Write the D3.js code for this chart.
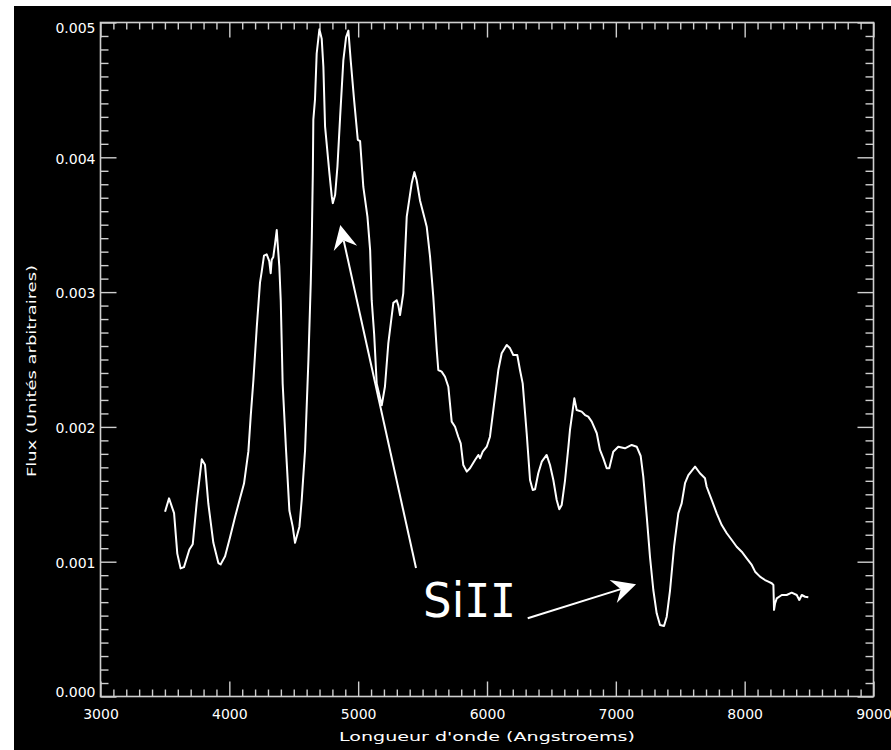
<!DOCTYPE html>
<html>
<head>
<meta charset="utf-8">
<script src="https://cdn.jsdelivr.net/npm/d3@7"></script>
<style>
  html, body { margin: 0; padding: 0; background: #ffffff; }
  svg { display: block; }
</style>
</head>
<body>
<script>
// ---- Data ----
const wavelength = [
  3501,3532,3571,3596,3622,3648,3690,3716,3747,3786,3811,3837,3876,3915,3933,3967,
  4005,4044,4083,4114,4148,4166,4187,4213,4238,4251,4269,4290,4310,4321,4329,4341,
  4355,4368,4375,4388,4399,4414,4440,4466,4492,4510,4544,4562,4588,4614,4632,4640,
  4648,4652,4665,4678,4699,4717,4730,4743,4777,4795,4803,4821,4839,4860,4885,4906,
  4924,4942,4968,4997,5015,5040,5072,5093,5105,5124,5144,5183,5208,5234,5273,5299,
  5312,5325,5350,5377,5416,5436,5454,5480,5519,5532,5558,5583,5610,5622,5648,5674,
  5700,5726,5752,5777,5796,5816,5843,5868,5907,5933,5946,5967,5998,6023,6049,6088,
  6114,6153,6179,6204,6235,6256,6277,6308,6334,6355,6373,6398,6425,6463,6489,6515,
  6541,6561,6580,6606,6632,6644,6678,6696,6735,6761,6786,6813,6852,6877,6903,6929,
  6949,6980,7019,7071,7123,7162,7193,7213,7240,7265,7291,7317,7343,7374,7395,7421,
  7452,7485,7511,7537,7563,7615,7653,7692,7705,7744,7783,7822,7861,7900,7938,7977,
  8016,8055,8081,8119,8158,8184,8210,8223,8228,8236,8249,8288,8326,8365,8404,8424,
  8443,8469,8494
];
const flux = [
  0.001371,0.001470,0.001360,0.001060,0.000950,0.000960,0.001090,0.001130,0.001440,0.001760,0.001720,0.001430,0.001140,0.000990,0.000980,0.001040,
  0.001180,0.001330,0.001470,0.001580,0.001820,0.002080,0.002350,0.002740,0.003070,0.003150,0.003270,0.003280,0.003230,0.003140,0.003240,0.003260,
  0.003360,0.003460,0.003360,0.003190,0.002940,0.002320,0.001830,0.001380,0.001260,0.001140,0.001260,0.001460,0.001830,0.002500,0.003070,0.003400,
  0.003880,0.004280,0.004430,0.004770,0.004950,0.004880,0.004670,0.004230,0.003880,0.003710,0.003660,0.003720,0.003930,0.004300,0.004720,0.004890,
  0.004940,0.004720,0.004430,0.004130,0.004120,0.003780,0.003560,0.003310,0.002940,0.002690,0.002320,0.002160,0.002300,0.002620,0.002920,0.002940,
  0.002900,0.002830,0.002990,0.003560,0.003810,0.003890,0.003830,0.003680,0.003535,0.003485,0.003263,0.002966,0.002570,0.002422,0.002410,0.002372,
  0.002298,0.002039,0.002001,0.001927,0.001878,0.001717,0.001668,0.001693,0.001754,0.001792,0.001767,0.001816,0.001853,0.001927,0.002125,0.002422,
  0.002546,0.002608,0.002583,0.002533,0.002533,0.002422,0.002323,0.001953,0.001606,0.001532,0.001537,0.001656,0.001742,0.001792,0.001717,0.001606,
  0.001458,0.001389,0.001421,0.001606,0.001853,0.001977,0.002212,0.002125,0.002113,0.002088,0.002076,0.002039,0.001953,0.001829,0.001767,0.001693,
  0.001693,0.001816,0.001853,0.001841,0.001866,0.001853,0.001784,0.001631,0.001334,0.001037,0.000790,0.000617,0.000530,0.000523,0.000592,0.000790,
  0.001111,0.001359,0.001433,0.001582,0.001643,0.001705,0.001656,0.001619,0.001556,0.001458,0.001359,0.001272,0.001211,0.001161,0.001111,0.001074,
  0.001025,0.000976,0.000926,0.000889,0.000864,0.000852,0.000840,0.000827,0.000642,0.000691,0.000728,0.000753,0.000753,0.000770,0.000753,0.000716,
  0.000753,0.000740,0.000736
];
const xMajorTicks = [3000,4000,5000,6000,7000,8000,9000];
const yMajorTicks = [0.000,0.001,0.002,0.003,0.004,0.005];
const xTitle = "Longueur d'onde (Angstroems)";
const yTitle = "Flux (Unités arbitraires)";
// annotation (data coordinates): label parts and arrows [tailX, tailY, tipX, tipY]
const annotLabelParts = ["Si", "II"];
const annotLabelPos = [5504, 0.000590];
const annotArrows = [
  [5449, 0.000953, 4861, 0.003498],
  [6316, 0.000580, 7157, 0.000832]
];

// ---- Drawing ----
const W = 891, H = 750;
const svg = d3.select("body").append("svg").attr("width", W).attr("height", H);
svg.append("rect").attr("width", W).attr("height", H).attr("fill", "#ffffff");
svg.append("rect").attr("x", 14).attr("y", 6).attr("width", W - 14).attr("height", H - 6).attr("fill", "#000000");

const L = 100.5, R = 873.5, T = 22.5, B = 696.5;
const x = d3.scaleLinear().domain([3000, 9000]).range([L, R]);
const y = d3.scaleLinear().domain([0, 0.005]).range([B, T]);

const axisColor = "#cfcfcf";
const xMinor = d3.range(3000, 9001, 100).filter(v => v % 1000 !== 0);
const yMinor = d3.range(0, 51, 1).filter(v => v % 10 !== 0).map(v => v / 10000);

function styleAxis(g) {
  g.select(".domain").remove();
  g.selectAll(".tick line").attr("stroke", axisColor).attr("stroke-width", 1.4);
}

// bottom
svg.append("g").attr("transform", `translate(0,${B})`)
  .call(d3.axisBottom(x).tickValues(xMinor).tickSize(-7).tickFormat(""))
  .call(styleAxis);
const gxb = svg.append("g").attr("transform", `translate(0,${B})`)
  .call(d3.axisBottom(x).tickValues(xMajorTicks).tickSize(-15).tickPadding(13).tickFormat(d3.format("d")))
  .call(styleAxis);
gxb.selectAll("text").attr("fill", "#ffffff").attr("font-family", "DejaVu Sans, sans-serif").attr("font-size", 14).attr("dy", "0.71em");
// top
svg.append("g").attr("transform", `translate(0,${T})`)
  .call(d3.axisTop(x).tickValues(xMinor).tickSize(-7).tickFormat(""))
  .call(styleAxis);
svg.append("g").attr("transform", `translate(0,${T})`)
  .call(d3.axisTop(x).tickValues(xMajorTicks).tickSize(-15).tickFormat(""))
  .call(styleAxis);
// left
svg.append("g").attr("transform", `translate(${L},0)`)
  .call(d3.axisLeft(y).tickValues(yMinor).tickSize(-8).tickFormat(""))
  .call(styleAxis);
const gyl = svg.append("g").attr("transform", `translate(${L},0)`)
  .call(d3.axisLeft(y).tickValues(yMajorTicks).tickSize(-16).tickPadding(5).tickFormat(d3.format(".3f")))
  .call(styleAxis);
gyl.selectAll("text").attr("fill", "#ffffff").attr("font-family", "DejaVu Sans, sans-serif").attr("font-size", 14)
  .attr("dy", (d, i, n) => i === 0 ? "-0.02em" : (i === n.length - 1 ? "0.70em" : "0.42em"));
// right
svg.append("g").attr("transform", `translate(${R},0)`)
  .call(d3.axisRight(y).tickValues(yMinor).tickSize(-8).tickFormat(""))
  .call(styleAxis);
svg.append("g").attr("transform", `translate(${R},0)`)
  .call(d3.axisRight(y).tickValues(yMajorTicks).tickSize(-16).tickFormat(""))
  .call(styleAxis);

// frame
svg.append("rect").attr("x", L).attr("y", T).attr("width", R - L).attr("height", B - T)
  .attr("fill", "none").attr("stroke", axisColor).attr("stroke-width", 1.6);

// titles
svg.append("text").attr("x", (L + R) / 2).attr("y", 741).attr("text-anchor", "middle")
  .attr("fill", "#ffffff").attr("font-family", "DejaVu Sans, sans-serif").attr("font-size", 13)
  .attr("textLength", 296).attr("lengthAdjust", "spacingAndGlyphs").text(xTitle);
svg.append("text").attr("transform", `translate(36,371) rotate(-90)`).attr("text-anchor", "middle")
  .attr("fill", "#ffffff").attr("font-family", "DejaVu Sans, sans-serif").attr("font-size", 13)
  .attr("textLength", 212).attr("lengthAdjust", "spacingAndGlyphs").text(yTitle);

// spectrum
const pts = wavelength.map((w, i) => [w, flux[i]]);
svg.append("path").datum(pts)
  .attr("fill", "none").attr("stroke", "#ffffff").attr("stroke-width", 2).attr("stroke-linejoin", "round")
  .attr("d", d3.line().x(d => x(d[0])).y(d => y(d[1])));

// annotation
const lab = svg.append("text").attr("x", x(annotLabelPos[0])).attr("y", y(annotLabelPos[1]))
  .attr("fill", "#ffffff").attr("font-size", 48)
  .attr("textLength", 93).attr("lengthAdjust", "spacingAndGlyphs");
lab.append("tspan").attr("font-family", "DejaVu Sans, sans-serif").text(annotLabelParts[0]);
lab.append("tspan").attr("font-family", "DejaVu Sans Mono, monospace").attr("font-size", 46).text(annotLabelParts[1]);

annotArrows.forEach(a => {
  const x0 = x(a[0]), y0 = y(a[1]), x1 = x(a[2]), y1 = y(a[3]);
  const dx = x1 - x0, dy = y1 - y0, len = Math.hypot(dx, dy);
  const ux = dx / len, uy = dy / len, px = -uy, py = ux;
  const hl = 24, hw = 12, notch = 16;
  svg.append("line").attr("x1", x0).attr("y1", y0)
    .attr("x2", x1 - ux * notch).attr("y2", y1 - uy * notch)
    .attr("stroke", "#ffffff").attr("stroke-width", 2);
  const head = [
    [x1, y1],
    [x1 - ux * hl + px * hw, y1 - uy * hl + py * hw],
    [x1 - ux * notch, y1 - uy * notch],
    [x1 - ux * hl - px * hw, y1 - uy * hl - py * hw]
  ];
  svg.append("polygon").attr("points", head.map(p => p.join(",")).join(" ")).attr("fill", "#ffffff");
});
</script>
</body>
</html>
